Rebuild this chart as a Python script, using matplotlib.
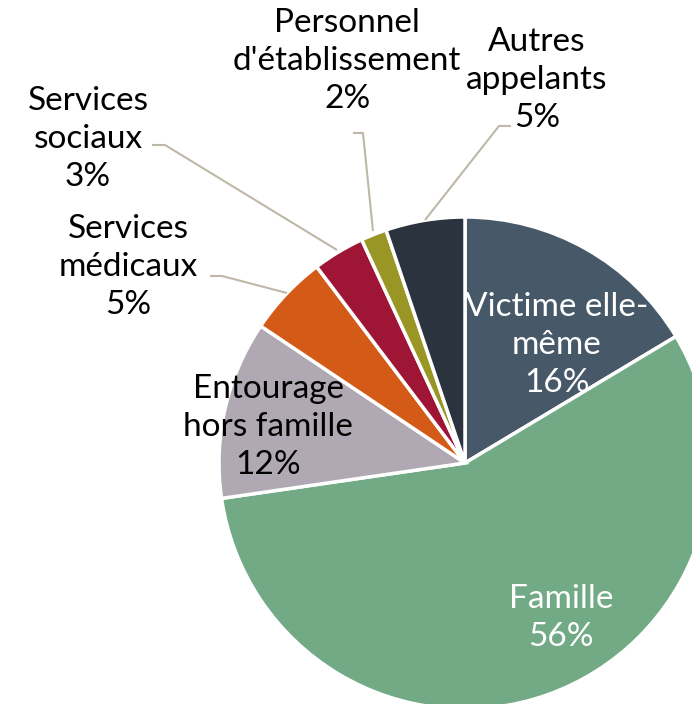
import matplotlib
matplotlib.use("Agg")
import matplotlib.pyplot as plt

categories = ["Victime elle-\nmême", "Famille", "Entourage\nhors famille", "Services\nmédicaux",
              "Services\nsociaux", "Personnel\nd'établissement", "Autres\nappelants"]
values = [16.4, 56.3, 11.7, 5.3, 3.4, 1.7, 5.2]
pct_labels = ["16%", "56%", "12%", "5%", "3%", "2%", "5%"]
colors = ["#475869", "#72AA85", "#B0A9B3", "#D45A17", "#9E1535", "#9A9626", "#2B333E"]

# label layout (pixel coords, y from top)
label_pos = [(557, 345), (561, 618), (268, 427), (128, 267), (88, 139), (347, 61), (537, 80)]
label_col = ["white", "white", "black", "black", "black", "black", "black"]
leaders = {
    3: [(210, 276), (222, 276), (287, 293)],
    4: [(152, 145), (165, 145), (337, 250)],
    5: [(353, 133), (363, 133), (373, 231)],
    6: [(511, 126), (499, 126), (425, 220)],
}

W, H = 692, 704
fig = plt.figure(figsize=(W / 100, H / 100), dpi=100)
ax = fig.add_axes([0, 0, 1, 1])
ax.pie(values, colors=colors, startangle=90, counterclock=False,
       center=(465, H - 463), radius=246,
       wedgeprops=dict(edgecolor="white", linewidth=2.5))
ax.set_xlim(0, W)
ax.set_ylim(0, H)
ax.set_aspect("equal")
ax.axis("off")

for i, pts in leaders.items():
    xs = [p[0] for p in pts]
    ys = [H - p[1] for p in pts]
    ax.plot(xs, ys, color="#BFB8A8", lw=1.5, solid_capstyle="butt")

for name, pct, (x, y), c in zip(categories, pct_labels, label_pos, label_col):
    ax.text(x, H - y, name + "\n" + pct, ha="center", va="center", color=c,
            fontsize=24, family="Lato", linespacing=1.35)

fig.savefig("out.png", dpi=100)
